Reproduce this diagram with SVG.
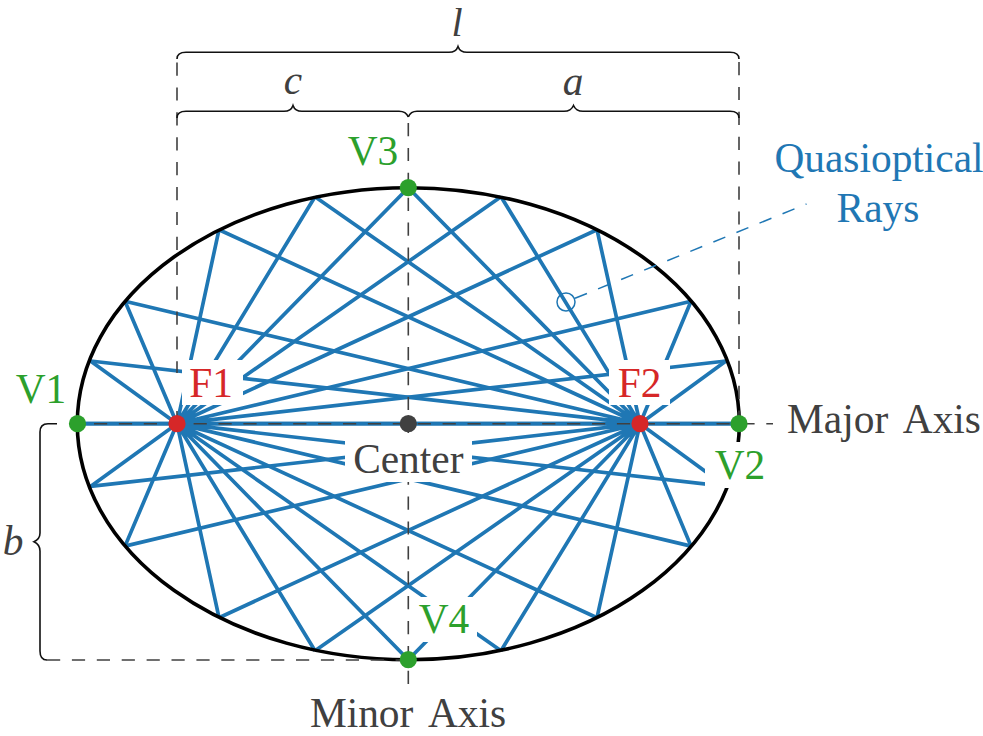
<svg xmlns="http://www.w3.org/2000/svg" width="983" height="736" viewBox="0 0 983 736">
<style>
text{font-family:"Liberation Serif","Times New Roman",serif;font-size:41.4px;text-anchor:middle}
.g{fill:#2ca02c}.r{fill:#d62728}.k{fill:#404040}.b{fill:#1f77b4}
.it{font-style:italic}
.ws{word-spacing:6.5px}
.dot{stroke:none}
.box{fill:#fff;stroke:none}
.ray{fill:none;stroke:#1f77b4;stroke-width:3.7}
.guide{fill:none;stroke:#404040;stroke-width:1.6;stroke-dasharray:13.2 11.7}
.brace{fill:none;stroke:#111;stroke-width:1.6}
</style>
<rect width="983" height="736" fill="#fff"/>
<g id="connectors">
<path id="rays-f1" class="ray" d="M177 423.7L77.3 423.7M177 423.7L90.5 361M177 423.7L125 301.3M177 423.7L219 229.7M177 423.7L315 196.7M177 423.7L408.3 187.7M177 423.7L501 196.7M177 423.7L597 229.7M177 423.7L691 301.3M177 423.7L726 361M177 423.7L739.3 423.7M177 423.7L90.5 486.4M177 423.7L125 546.1M177 423.7L219 617.7M177 423.7L315 650.7M177 423.7L408.3 659.7M177 423.7L501 650.7M177 423.7L597 617.7M177 423.7L691 546.1M177 423.7L726 486.4"/>
<path id="rays-f2" class="ray" d="M640 423.7L77.3 423.7M640 423.7L90.5 361M640 423.7L125 301.3M640 423.7L219 229.7M640 423.7L315 196.7M640 423.7L408.3 187.7M640 423.7L501 196.7M640 423.7L597 229.7M640 423.7L691 301.3M640 423.7L726 361M640 423.7L739.3 423.7M640 423.7L90.5 486.4M640 423.7L125 546.1M640 423.7L219 617.7M640 423.7L315 650.7M640 423.7L408.3 659.7M640 423.7L501 650.7M640 423.7L597 617.7M640 423.7L691 546.1M640 423.7L726 486.4"/>
</g>
<g id="ellipse"><ellipse cx="408.3" cy="423.7" rx="331" ry="236" fill="none" stroke="#000" stroke-width="3.6"/></g>
<g id="guides">
<path class="guide" d="M69.1 423.7H773"/>
<path class="guide" d="M408.3 123V684"/>
<path class="guide" d="M177 62.5V373M177 411V424"/>
<path class="guide" d="M739 62V424"/>
<path class="guide" d="M47 660H400"/>
<path d="M575 298.3L806.5 204" fill="none" stroke="#1f77b4" stroke-width="1.5" stroke-dasharray="12.9 12"/>
</g>
<g id="braces">
<path class="brace" d="M177 59Q177 52.3 186 52.3H449Q456 52.3 458 46.5Q460 52.3 467 52.3H730Q739 52.3 739 59"/>
<path class="brace" d="M177 118Q177 111.3 186 111.3H284Q291 111.3 293 105.5Q295 111.3 302 111.3H399Q406 111.3 408.3 117"/>
<path class="brace" d="M408.3 117Q410.6 111.3 417 111.3H564Q571 111.3 573.5 105.5Q576 111.3 583 111.3H730Q739 111.3 739 118"/>
<path class="brace" d="M57 423.7H48Q40 423.7 40 432V533Q40 539 34 541.7Q40 544.5 40 551V651Q40 660 47 660"/>
</g>
<g id="label-l"><text class="k it" x="457" y="36" style="font-size:40px">l</text></g>
<g id="label-c"><text class="k it" x="293" y="94">c</text></g>
<g id="label-a"><text class="k it" x="573" y="95">a</text></g>
<g id="label-b"><text class="k it" x="13" y="555">b</text></g>
<g id="node-center">
<rect class="box" x="345" y="433" width="127" height="49"/>
<circle class="dot k" cx="408.3" cy="423.7" r="8.6"/>
<text class="k" x="408.3" y="473">Center</text>
</g>
<g id="node-v1"><circle class="dot g" cx="77.5" cy="423.7" r="8.6"/><text class="g" x="41" y="403">V1</text></g>
<g id="node-v2">
<rect class="box" x="705" y="442" width="71" height="46"/>
<circle class="dot g" cx="739" cy="423.7" r="8.6"/>
<text class="g" x="740" y="479">V2</text>
</g>
<g id="node-v3"><circle class="dot g" cx="408.3" cy="187.7" r="8.6"/><text class="g" x="373" y="165">V3</text></g>
<g id="node-v4">
<rect class="box" x="411" y="597" width="66" height="45"/>
<circle class="dot g" cx="408.3" cy="659.7" r="8.6"/>
<text class="g" x="444" y="633">V4</text>
</g>
<g id="node-f1">
<rect class="box" x="182" y="360" width="61" height="45"/>
<circle class="dot r" cx="177" cy="423.7" r="8.6"/>
<text class="r" x="211" y="397">F1</text>
</g>
<g id="node-f2">
<rect class="box" x="609" y="360" width="61" height="45"/>
<circle class="dot r" cx="640" cy="423.7" r="8.6"/>
<text class="r" x="639.5" y="397">F2</text>
</g>
<g id="label-major"><text class="k ws" x="884" y="433">Major Axis</text></g>
<g id="label-minor"><text class="k ws" x="408" y="727">Minor Axis</text></g>
<g id="label-rays">
<circle cx="566" cy="302" r="9" fill="none" stroke="#1f77b4" stroke-width="1.5"/>
<text class="b" x="879" y="172">Quasioptical</text>
<text class="b" x="878" y="222">Rays</text>
</g>
</svg>
